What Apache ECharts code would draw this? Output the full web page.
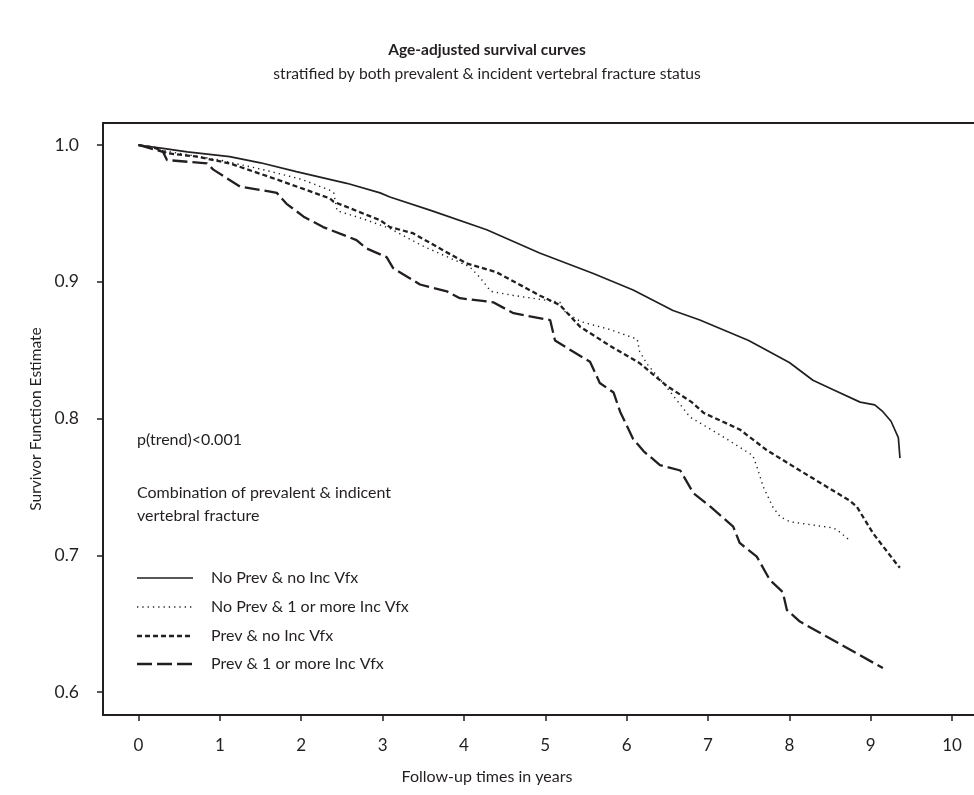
<!DOCTYPE html>
<html>
<head>
<meta charset="utf-8">
<script src="https://cdn.jsdelivr.net/npm/echarts@6/dist/echarts.min.js"></script>
<style>
html,body{margin:0;padding:0;background:#fff;}
#chart{width:974px;height:795px;}
</style>
</head>
<body>
<div id="chart"></div>
<script>
var seriesNames = ['No Prev & no Inc Vfx', 'No Prev & 1 or more Inc Vfx', 'Prev & no Inc Vfx', 'Prev & 1 or more Inc Vfx'];

var xTicks = [0,1,2,3,4,5,6,7,8,9,10];
var yTicks = [0.6,0.7,0.8,0.9,1.0];

var noPrevNoIncX = [0,0.3,0.6,1.12,1.5,1.94,2.56,2.97,3.09,3.6,4.28,4.93,5.59,6.08,6.57,6.9,7.5,8.0,8.29,8.54,8.87,9.05,9.15,9.25,9.34,9.36];
var noPrevNoIncY = [1.0,0.9976,0.995,0.9915,0.987,0.9805,0.972,0.965,0.962,0.952,0.938,0.921,0.906,0.894,0.879,0.872,0.857,0.841,0.828,0.821,0.812,0.810,0.805,0.798,0.786,0.771];

var noPrevIncX = [0,0.39,1.0,1.53,2.0,2.35,2.40,2.44,2.76,3.09,3.5,4.07,4.2,4.33,4.61,5.18,5.22,5.43,5.8,6.13,6.16,6.25,6.49,6.78,7.15,7.55,7.60,7.68,7.80,7.89,8.01,8.54,8.6,8.74];
var noPrevIncY = [1.0,0.995,0.989,0.982,0.975,0.967,0.965,0.952,0.946,0.939,0.926,0.911,0.903,0.893,0.890,0.885,0.879,0.871,0.865,0.858,0.849,0.840,0.823,0.801,0.788,0.773,0.765,0.750,0.735,0.728,0.7245,0.720,0.718,0.711];

var prevNoIncX = [0,0.2,0.35,0.72,1.12,1.74,2.35,2.40,2.97,3.09,3.37,4.03,4.40,4.93,5.18,5.43,5.84,6.16,6.49,6.8,6.95,7.39,7.72,8.13,8.74,8.83,9.03,9.34,9.36];
var prevNoIncY = [1.0,0.998,0.994,0.9915,0.9866,0.974,0.961,0.9585,0.945,0.940,0.9356,0.9135,0.907,0.890,0.883,0.867,0.8515,0.8405,0.824,0.812,0.804,0.792,0.777,0.762,0.740,0.7355,0.716,0.692,0.691];

var prevIncX = [0,0.3,0.35,0.84,0.92,1.25,1.62,1.70,1.82,2.03,2.27,2.68,2.80,3.05,3.13,3.46,3.79,3.95,4.36,4.61,5.06,5.12,5.34,5.55,5.67,5.84,5.92,6.08,6.21,6.41,6.66,6.82,7.03,7.31,7.39,7.60,7.76,7.92,7.97,8.13,9.15];
var prevIncY = [1.0,0.995,0.989,0.9866,0.982,0.9695,0.966,0.965,0.957,0.9476,0.940,0.9305,0.9245,0.918,0.910,0.898,0.893,0.888,0.885,0.877,0.872,0.857,0.849,0.8415,0.826,0.819,0.805,0.785,0.776,0.766,0.762,0.7455,0.7355,0.721,0.709,0.699,0.682,0.673,0.660,0.6515,0.6175];

function pairs(xs, ys){ return xs.map(function(x,i){ return [x, ys[i]]; }); }

var ink = '#231f20';
var font = 'Lato';
var styles = [
  {width:1.7, type:'solid'},
  {width:1.4, type:[1.3,4]},
  {width:2.3, type:[5,3]},
  {width:2.3, type:[15,5]}
];
var dataSets = [pairs(noPrevNoIncX,noPrevNoIncY), pairs(noPrevIncX,noPrevIncY), pairs(prevNoIncX,prevNoIncY), pairs(prevIncX,prevIncY)];

var chart = echarts.init(document.getElementById('chart'), null, {renderer:'canvas'});

var legendGraphics = [];
var legendY = [578, 607, 636, 664];
var txtFont = '16px "' + font + '"';
seriesNames.forEach(function(n, i){
  legendGraphics.push({
    type:'line', shape:{x1:137, y1:legendY[i], x2:193, y2:legendY[i]},
    style:{stroke:ink, lineWidth:styles[i].width, lineDash: styles[i].type === 'solid' ? null : styles[i].type}
  });
  legendGraphics.push({
    type:'text', x:211, y:legendY[i],
    style:{text:n, fill:ink, font:txtFont, verticalAlign:'middle'}
  });
});
legendGraphics.push({type:'text', x:137, y:440, style:{text:'p(trend)<0.001', fill:ink, font:txtFont, verticalAlign:'middle'}});
legendGraphics.push({type:'text', x:137, y:493, style:{text:'Combination of prevalent & indicent', fill:ink, font:txtFont, verticalAlign:'middle'}});
legendGraphics.push({type:'text', x:137, y:516, style:{text:'vertebral fracture', fill:ink, font:txtFont, verticalAlign:'middle'}});
legendGraphics.push({type:'text', x:487, y:777, style:{text:'Follow-up times in years', fill:ink, font:txtFont, align:'center', verticalAlign:'middle'}});

chart.setOption({
  animation:false,
  backgroundColor:'#fff',
  title:{
    text:'Age-adjusted survival curves',
    subtext:'stratified by both prevalent & incident vertebral fracture status',
    left:'center', top:37, itemGap:8,
    textStyle:{fontFamily:font, fontWeight:'bold', fontSize:15.5, color:ink},
    subtextStyle:{fontFamily:font, fontSize:15.6, color:ink}
  },
  grid:{left:103, top:123, right:0, bottom:80, show:false, containLabel:false},
  xAxis:[{
    type:'value', min:-0.4364, max:10.27,
    axisLine:{show:true, onZero:false, lineStyle:{color:ink, width:2}},
    axisTick:{show:true, length:6, lineStyle:{color:ink, width:1.5}, customValues:xTicks},
    axisLabel:{fontFamily:font, fontSize:17, color:ink, margin:22, customValues:xTicks, formatter:function(v){return String(v);}},
    splitLine:{show:false}
  },{
    type:'value', position:'top', min:-0.4364, max:10.27,
    axisLine:{show:true, onZero:false, lineStyle:{color:ink, width:2}},
    axisTick:{show:false}, axisLabel:{show:false}, splitLine:{show:false}
  }],
  yAxis:{
    type:'value', min:0.5832, max:1.0161,
    name:'Survivor Function Estimate', nameLocation:'middle', nameGap:58, nameRotate:90,
    nameTextStyle:{fontFamily:font, fontSize:15.5, color:ink},
    axisLine:{show:true, onZero:false, lineStyle:{color:ink, width:2}},
    axisTick:{show:true, length:6, lineStyle:{color:ink, width:1.5}, customValues:yTicks},
    axisLabel:{fontFamily:font, fontSize:17.5, color:ink, margin:24, customValues:yTicks, formatter:function(v){return v.toFixed(1);}},
    splitLine:{show:false}
  },
  series: dataSets.map(function(d, i){
    return {
      name:seriesNames[i], type:'line', data:d, showSymbol:false, symbol:'none', xAxisIndex:0,
      lineStyle:{color:ink, width:styles[i].width, type:styles[i].type},
      z: 5 - i
    };
  }),
  graphic: legendGraphics
});
</script>
</body>
</html>
